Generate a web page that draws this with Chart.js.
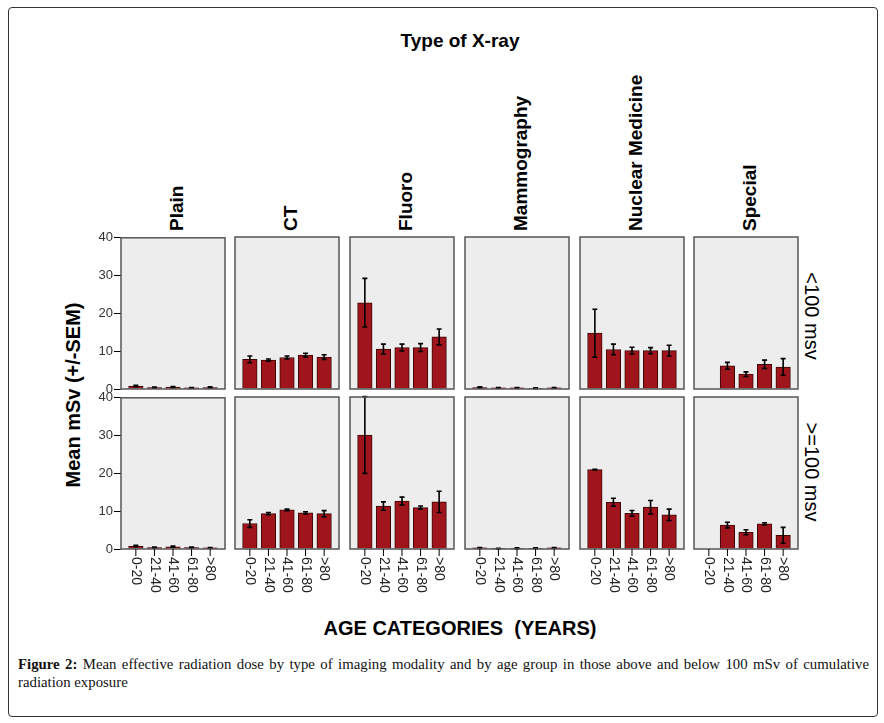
<!DOCTYPE html>
<html>
<head>
<meta charset="utf-8">
<script src="https://cdn.jsdelivr.net/npm/chart.js@4/dist/chart.umd.min.js"></script>
<style>
  body { margin: 0; background: #fff; font-family: "Liberation Sans", Arial, sans-serif; }
  #wrap { position: relative; width: 884px; height: 723px; overflow: hidden; }
  #frame { position: absolute; left: 8px; top: 7px; width: 868px; height: 708px; border: 1px solid #333; border-radius: 4px; }
  canvas { position: absolute; }
  .txt { position: absolute; white-space: pre; color: #000; line-height: 1.15; }
  .bold { font-weight: bold; }
  #caption { position: absolute; left: 18px; top: 655px; width: 851px; font-family: "Liberation Serif", "Times New Roman", serif;
             font-size: 14.8px; line-height: 18px; text-align: justify; color: #111; }
</style>
</head>
<body>
<div id="wrap">
  <div id="frame"></div>
  <div class="txt bold" style="left:460px; top:41px; font-size:19px; transform: translate(-50%,-50%);">Type of X-ray</div>
  <div class="txt bold" style="left:73px; top:395px; font-size:20px; transform-origin:0 0; transform: rotate(-90deg) translate(-50%,-50%);">Mean mSv (+/-SEM)</div>
  <div class="txt bold" style="left:460px; top:628px; font-size:20px; transform: translate(-50%,-50%);">AGE CATEGORIES  (YEARS)</div>
  <div class="txt" style="left:811px; top:316px; font-size:20px; transform-origin:0 0; transform: rotate(90deg) translate(-50%,-50%);">&lt;100 msv</div>
  <div class="txt" style="left:811px; top:472px; font-size:20px; transform-origin:0 0; transform: rotate(90deg) translate(-50%,-50%);">&gt;=100 msv</div>
  <div id="caption"><b>Figure 2:</b> Mean effective radiation dose by type of imaging modality and by age group in those above and below 100 mSv of cumulative radiation exposure</div>
</div>
<script>
const modalities = ["Plain", "CT", "Fluoro", "Mammography", "Nuclear Medicine", "Special"];
const ageGroups = ["0-20", "21-40", "41-60", "61-80", ">80"];
const yTicks = [0, 10, 20, 30, 40];

// mean mSv, <100 msv group
const meanLow = [
  [0.8, 0.4, 0.5, 0.3, 0.4],
  [7.8, 7.6, 8.3, 8.9, 8.4],
  [22.7, 10.5, 10.9, 10.9, 13.7],
  [0.4, 0.3, 0.3, 0.2, 0.3],
  [14.7, 10.4, 10.1, 10.1, 10.1],
  [null, 6.1, 3.9, 6.5, 5.8]
];
const semLow = [
  [0.2, 0.1, 0.15, 0.1, 0.15],
  [0.9, 0.3, 0.4, 0.5, 0.6],
  [6.4, 1.3, 0.9, 1.05, 2.1],
  [0.15, 0.1, 0.1, 0.1, 0.1],
  [6.3, 1.4, 0.9, 0.8, 1.4],
  [null, 0.9, 0.6, 1.1, 2.2]
];
// mean mSv, >=100 msv group
const meanHigh = [
  [0.8, 0.4, 0.6, 0.4, 0.3],
  [6.7, 9.3, 10.3, 9.5, 9.3],
  [30.0, 11.3, 12.6, 10.9, 12.4],
  [0.3, 0.1, 0.2, 0.2, 0.3],
  [20.9, 12.3, 9.4, 11.0, 9.0],
  [null, 6.3, 4.4, 6.6, 3.6]
];
const semHigh = [
  [0.2, 0.1, 0.15, 0.1, 0.1],
  [1.0, 0.3, 0.2, 0.3, 0.8],
  [10.1, 1.1, 1.05, 0.4, 2.8],
  [0.1, 0.1, 0.1, 0.1, 0.1],
  [0.1, 1.05, 0.75, 1.75, 1.5],
  [null, 0.75, 0.65, 0.3, 2.1]
];

const colLeft = [121, 235, 350, 465, 580, 694];
const rowTop = [237, 397];
const panelW = 104, panelH = 152;
const padL = 45, padT = 8, padR = 8, padB = 50;

Chart.defaults.font.family = '"Liberation Sans", Arial, sans-serif';
Chart.defaults.font.size = 13;
Chart.defaults.color = '#222';

const wrap = document.getElementById('wrap');

// modality column labels
modalities.forEach((m, c) => {
  const d = document.createElement('div');
  d.className = 'txt bold';
  d.textContent = m;
  d.style.fontSize = '19px';
  d.style.left = (colLeft[c] + panelW / 2 + 4) + 'px';
  d.style.top = '231px';
  d.style.transformOrigin = '0 0';
  d.style.transform = 'rotate(-90deg) translate(0,-50%)';
  wrap.appendChild(d);
});

const panelPlugin = {
  id: 'panel',
  beforeDatasetsDraw(chart) {
    const a = chart.chartArea, ctx = chart.ctx;
    ctx.save();
    ctx.fillStyle = '#ededed';
    ctx.fillRect(a.left, a.top, a.right - a.left, a.bottom - a.top);
    ctx.restore();
  },
  afterDatasetsDraw(chart) {
    const ctx = chart.ctx, a = chart.chartArea;
    const y = chart.scales.y, x = chart.scales.x;
    const o = chart.options.plugins.panel;
    const meta = chart.getDatasetMeta(0);
    // error bars
    ctx.save();
    ctx.strokeStyle = '#000';
    ctx.lineWidth = 1.6;
    o.means.forEach((v, i) => {
      if (v === null) return;
      const bx = meta.data[i].x;
      const top = y.getPixelForValue(v + o.sems[i]);
      const bot = y.getPixelForValue(Math.max(0, v - o.sems[i]));
      ctx.beginPath();
      ctx.moveTo(bx, top); ctx.lineTo(bx, bot);
      ctx.moveTo(bx - 2.5, top); ctx.lineTo(bx + 2.5, top);
      ctx.moveTo(bx - 2.5, bot); ctx.lineTo(bx + 2.5, bot);
      ctx.stroke();
    });
    // panel border
    ctx.strokeStyle = '#555';
    ctx.lineWidth = 1.5;
    ctx.strokeRect(a.left, a.top, a.right - a.left, a.bottom - a.top);
    // x ticks and labels on the bottom row
    if (o.showX) {
      ctx.strokeStyle = '#000';
      ctx.lineWidth = 1;
      ctx.fillStyle = '#222';
      ctx.font = '14px "Liberation Sans", Arial, sans-serif';
      ctx.textAlign = 'left';
      ctx.textBaseline = 'middle';
      ageGroups.forEach((g, i) => {
        const px = x.getPixelForValue(i);
        ctx.beginPath();
        ctx.moveTo(px, a.bottom); ctx.lineTo(px, a.bottom + 7);
        ctx.stroke();
        ctx.save();
        ctx.translate(px, a.bottom + 8);
        ctx.rotate(Math.PI / 2);
        ctx.fillText(g, 0, 0);
        ctx.restore();
      });
    }
    ctx.restore();
  }
};

function drawPanel(r, c) {
  const means = r === 0 ? meanLow[c] : meanHigh[c];
  const sems = r === 0 ? semLow[c] : semHigh[c];
  const cv = document.createElement('canvas');
  const w = panelW + padL + padR, h = panelH + padT + padB;
  cv.style.left = (colLeft[c] - padL) + 'px';
  cv.style.top = (rowTop[r] - padT) + 'px';
  cv.style.width = w + 'px';
  cv.style.height = h + 'px';
  cv.width = w; cv.height = h;
  wrap.appendChild(cv);
  const showY = c === 0;
  new Chart(cv, {
    type: 'bar',
    data: {
      datasets: [{
        data: means.map((v, i) => ({ x: i, y: v })),
        backgroundColor: '#a0151b',
        borderColor: '#3c0809',
        borderWidth: 1,
        barThickness: 14.5
      }]
    },
    options: {
      responsive: false,
      animation: false,
      devicePixelRatio: 1,
      layout: { padding: { left: 0, top: padT, right: padR, bottom: padB } },
      plugins: {
        legend: { display: false },
        tooltip: { enabled: false },
        panel: { means: means, sems: sems, showX: r === 1 }
      },
      scales: {
        x: {
          type: 'linear', min: -0.8, max: 4.8, bounds: 'data', offset: false, grace: 0,
          display: false,
          afterDataLimits: s => { s.min = -0.8; s.max = 4.8; }
        },
        y: {
          min: 0, max: 40,
          afterBuildTicks: s => { s.ticks = yTicks.map(v => ({ value: v })); },
          afterFit: s => { s.width = padL; },
          border: { display: false },
          grid: { drawOnChartArea: false, drawTicks: showY, tickLength: 7, color: '#000', tickColor: '#000' },
          ticks: { display: showY, padding: 1, color: '#333', font: { size: 13 } }
        }
      }
    },
    plugins: [panelPlugin]
  });
}

for (let r = 0; r < 2; r++) {
  for (let c = 0; c < modalities.length; c++) drawPanel(r, c);
}
</script>
</body>
</html>
